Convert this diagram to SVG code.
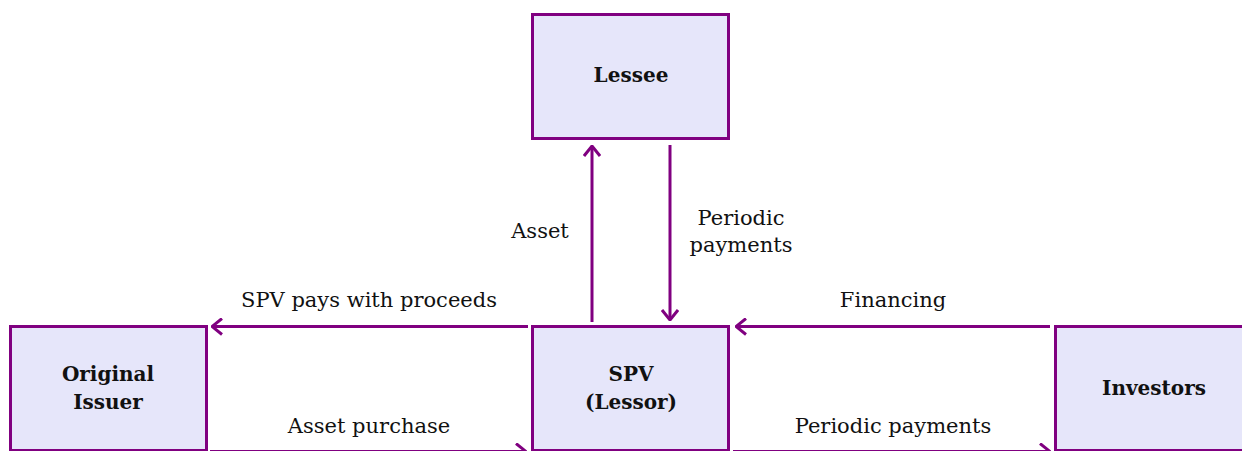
<svg xmlns="http://www.w3.org/2000/svg" width="1242" height="451" viewBox="0 0 1242 451">
<style>
.box{fill:#e6e6fa;stroke:#800080;stroke-width:3}
.lbl{font-family:"DejaVu Serif",serif;font-size:21px;fill:#111;text-anchor:middle}
.node{font-family:"DejaVu Serif",serif;font-size:20px;font-weight:bold;fill:#111;text-anchor:middle}
.edge{stroke:#800080;stroke-width:3;fill:none;marker-end:url(#ah)}
</style>
<defs>
<marker id="ah" markerUnits="userSpaceOnUse" viewBox="0 0 12 18" refX="11" refY="9" markerWidth="12" markerHeight="18" orient="auto">
<path d="M1,1 L11,9 L1,17" fill="none" stroke="#800080" stroke-width="3"/>
</marker>
</defs>
<rect width="1242" height="451" fill="#fff"/>
<g id="lessee"><rect class="box" x="532.5" y="14.5" width="196" height="124"/><text class="node" x="631" y="82">Lessee</text></g>
<g id="original-issuer"><rect class="box" x="10.5" y="326.5" width="196" height="124"/><text class="node" x="108" y="381">Original</text><text class="node" x="108" y="409">Issuer</text></g>
<g id="spv"><rect class="box" x="532.5" y="326.5" width="196" height="124"/><text class="node" x="631" y="381">SPV</text><text class="node" x="631" y="409">(Lessor)</text></g>
<g id="investors"><rect class="box" x="1055.5" y="326.5" width="196" height="124"/><text class="node" x="1154" y="395">Investors</text></g>
<g id="connectors">
<line class="edge" x1="592" y1="322" x2="592" y2="146"/>
<line class="edge" x1="670" y1="145" x2="670" y2="320"/>
<line class="edge" x1="528" y1="326.5" x2="212" y2="326.5"/>
<line class="edge" x1="1050" y1="326.5" x2="736" y2="326.5"/>
<line class="edge" x1="210" y1="451.5" x2="526" y2="451.5"/>
<line class="edge" x1="733" y1="451.5" x2="1050" y2="451.5"/>
<text class="lbl" x="540" y="238">Asset</text>
<text class="lbl" x="741" y="225">Periodic</text>
<text class="lbl" x="741" y="252">payments</text>
<text class="lbl" x="369" y="307">SPV pays with proceeds</text>
<text class="lbl" x="893" y="307">Financing</text>
<text class="lbl" x="369" y="433">Asset purchase</text>
<text class="lbl" x="893" y="433">Periodic payments</text>
</g>
</svg>
